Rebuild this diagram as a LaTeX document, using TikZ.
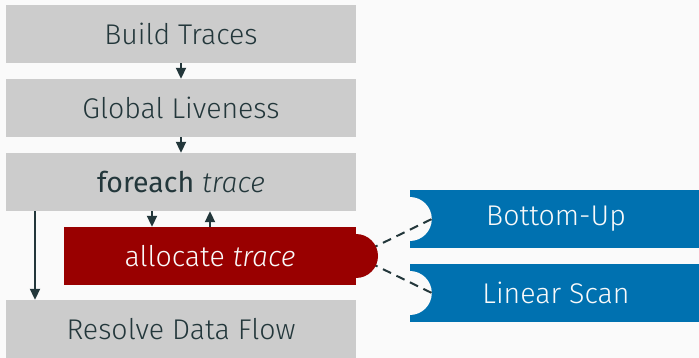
\documentclass[tikz,border=0pt]{standalone}
\usepackage{fontspec}
\setmainfont{Fira Sans}[UprightFont={* Light}, ItalicFont={* Light Italic}, BoldFont={*}]
\usetikzlibrary{arrows.meta, positioning}

\definecolor{bgGrey}{HTML}{FAFAFA}
\definecolor{stageGrey}{HTML}{CCCCCC}
\definecolor{darkTeal}{HTML}{23373B}
\definecolor{allocRed}{HTML}{990000}
\definecolor{algoBlue}{HTML}{0071B0}

\begin{document}
\begin{tikzpicture}[x=1pt, y=-1pt]

	% Stile
	\tikzset{every node/.style={font=\fontsize{28.5pt}{34pt}\selectfont}}
	\tikzset{stage/.style={fill=stageGrey, text=darkTeal, minimum width=350pt, minimum height=58pt, inner sep=0pt}}
	\tikzset{alloc/.style={fill=allocRed, text=bgGrey, minimum width=292pt, minimum height=58pt, inner sep=0pt}}
	\tikzset{algo/.style={fill=algoBlue, text=bgGrey, minimum width=292pt, minimum height=58pt, inner sep=0pt}}
	\tikzset{flow/.style={line width=2pt, draw=darkTeal, -{Triangle[width=10pt, length=11pt]}}}
	\tikzset{choice/.style={line width=2pt, draw=darkTeal, dash pattern=on 9pt off 6pt}}

	% Hintergrund
	\fill[bgGrey] (0,0) rectangle (699,358);
	\useasboundingbox (0,0) rectangle (699,358);

	% Phasen (grau)
	\node[stage] (build) at (181,34) {Build Traces};
	\node[stage] (liveness) at (181,108) {Global Liveness};
	\node[stage] (foreach) at (181,182) {\textbf{foreach} \textit{trace}};
	\node[stage] (resolve) at (181,329) {Resolve Data Flow};

	% Allokation (rot)
	\node[alloc] (allocate) at (210,256) {allocate \textit{trace}};
	\coordinate (allocTip) at (356,256);

	% Verfahren (blau) mit Aussparung
	\node[algo] (bottomup) at (556,219) {Bottom-Up};
	\node[algo] (linscan) at (556,293) {Linear Scan};
	\fill[bgGrey] (bottomup.west) circle (22);
	\fill[bgGrey] (linscan.west) circle (22);
	\coordinate (bottomupNotch) at ([xshift=22pt]bottomup.west);
	\coordinate (linscanNotch) at ([xshift=22pt]linscan.west);

	% gestrichelte Auswahl
	\draw[choice] (allocTip) -- (bottomupNotch);
	\draw[choice] (allocTip) -- (linscanNotch);
	\fill[allocRed] (allocTip) circle (22);

	% Pfeile
	\draw[flow] (build) -- (liveness);
	\draw[flow] (liveness) -- (foreach);
	\draw[flow] ([xshift=-29pt]foreach.south) -- ([xshift=-29pt]foreach.south |- allocate.north);
	\draw[flow] (allocate.north) -- (allocate.north |- foreach.south);
	\draw[flow] ([xshift=-146pt]foreach.south) -- ([xshift=-146pt]foreach.south |- resolve.north);

\end{tikzpicture}
\end{document}
